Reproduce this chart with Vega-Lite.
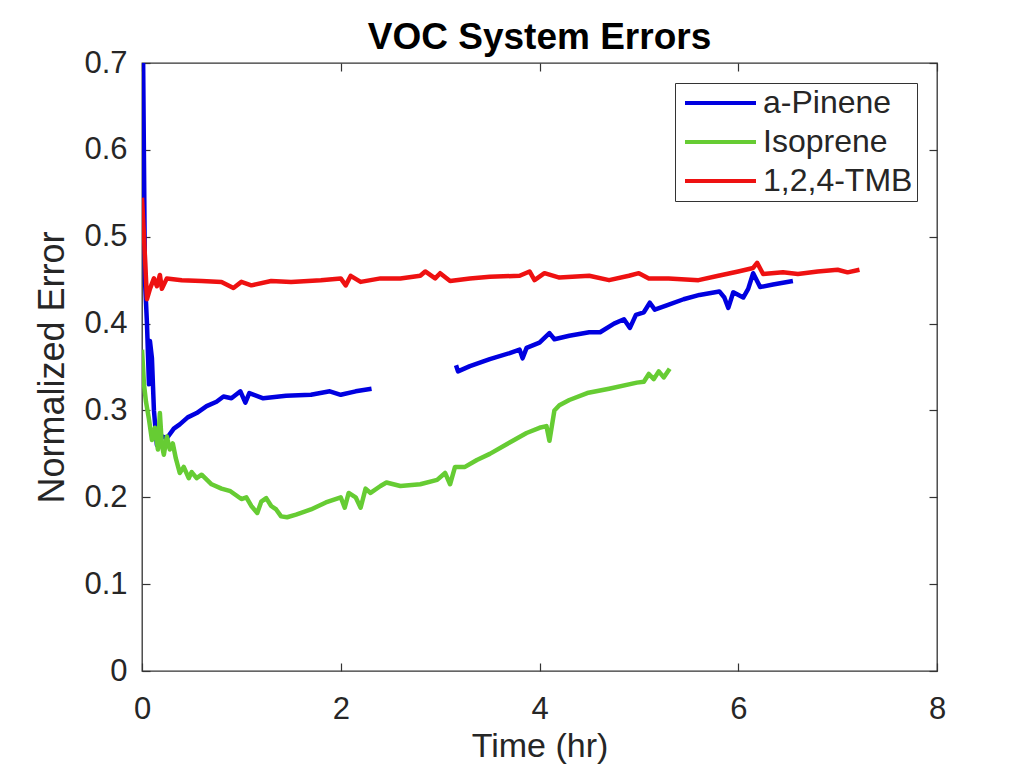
{
  "$schema": "https://vega.github.io/schema/vega-lite/v6.json",
  "autosize": {"type": "none"},
  "width": 795,
  "height": 608,
  "padding": {"left": 142, "top": 63, "right": 86, "bottom": 100},
  "background": "white",
  "title": {"text": "VOC System Errors", "font": "Liberation Sans", "fontSize": 37, "fontWeight": "bold", "color": "#000000", "anchor": "middle", "offset": -11},
  "datasets": {
    "pts": [
      {"t": 0.01, "err": 0.72, "series": "a-Pinene", "seg": "a1"},
      {"t": 0.03, "err": 0.45, "series": "a-Pinene", "seg": "a1"},
      {"t": 0.05, "err": 0.40, "series": "a-Pinene", "seg": "a1"},
      {"t": 0.07, "err": 0.33, "series": "a-Pinene", "seg": "a1"},
      {"t": 0.08, "err": 0.38, "series": "a-Pinene", "seg": "a1"},
      {"t": 0.10, "err": 0.36, "series": "a-Pinene", "seg": "a1"},
      {"t": 0.12, "err": 0.30, "series": "a-Pinene", "seg": "a1"},
      {"t": 0.15, "err": 0.26, "series": "a-Pinene", "seg": "a1"},
      {"t": 0.20, "err": 0.27, "series": "a-Pinene", "seg": "a1"},
      {"t": 0.25, "err": 0.268, "series": "a-Pinene", "seg": "a1"},
      {"t": 0.32, "err": 0.279, "series": "a-Pinene", "seg": "a1"},
      {"t": 0.38, "err": 0.284, "series": "a-Pinene", "seg": "a1"},
      {"t": 0.46, "err": 0.292, "series": "a-Pinene", "seg": "a1"},
      {"t": 0.55, "err": 0.297, "series": "a-Pinene", "seg": "a1"},
      {"t": 0.65, "err": 0.305, "series": "a-Pinene", "seg": "a1"},
      {"t": 0.75, "err": 0.31, "series": "a-Pinene", "seg": "a1"},
      {"t": 0.82, "err": 0.316, "series": "a-Pinene", "seg": "a1"},
      {"t": 0.9, "err": 0.314, "series": "a-Pinene", "seg": "a1"},
      {"t": 0.99, "err": 0.322, "series": "a-Pinene", "seg": "a1"},
      {"t": 1.04, "err": 0.309, "series": "a-Pinene", "seg": "a1"},
      {"t": 1.08, "err": 0.32, "series": "a-Pinene", "seg": "a1"},
      {"t": 1.22, "err": 0.314, "series": "a-Pinene", "seg": "a1"},
      {"t": 1.45, "err": 0.317, "series": "a-Pinene", "seg": "a1"},
      {"t": 1.7, "err": 0.318, "series": "a-Pinene", "seg": "a1"},
      {"t": 1.89, "err": 0.322, "series": "a-Pinene", "seg": "a1"},
      {"t": 2.0, "err": 0.318, "series": "a-Pinene", "seg": "a1"},
      {"t": 2.15, "err": 0.322, "series": "a-Pinene", "seg": "a1"},
      {"t": 2.31, "err": 0.325, "series": "a-Pinene", "seg": "a1"},
      {"t": 3.16, "err": 0.352, "series": "a-Pinene", "seg": "a2"},
      {"t": 3.18, "err": 0.345, "series": "a-Pinene", "seg": "a2"},
      {"t": 3.3, "err": 0.351, "series": "a-Pinene", "seg": "a2"},
      {"t": 3.5, "err": 0.359, "series": "a-Pinene", "seg": "a2"},
      {"t": 3.7, "err": 0.366, "series": "a-Pinene", "seg": "a2"},
      {"t": 3.8, "err": 0.37, "series": "a-Pinene", "seg": "a2"},
      {"t": 3.83, "err": 0.36, "series": "a-Pinene", "seg": "a2"},
      {"t": 3.87, "err": 0.372, "series": "a-Pinene", "seg": "a2"},
      {"t": 4.0, "err": 0.378, "series": "a-Pinene", "seg": "a2"},
      {"t": 4.1, "err": 0.389, "series": "a-Pinene", "seg": "a2"},
      {"t": 4.15, "err": 0.382, "series": "a-Pinene", "seg": "a2"},
      {"t": 4.3, "err": 0.386, "series": "a-Pinene", "seg": "a2"},
      {"t": 4.5, "err": 0.39, "series": "a-Pinene", "seg": "a2"},
      {"t": 4.61, "err": 0.39, "series": "a-Pinene", "seg": "a2"},
      {"t": 4.75, "err": 0.4, "series": "a-Pinene", "seg": "a2"},
      {"t": 4.85, "err": 0.405, "series": "a-Pinene", "seg": "a2"},
      {"t": 4.91, "err": 0.395, "series": "a-Pinene", "seg": "a2"},
      {"t": 4.97, "err": 0.41, "series": "a-Pinene", "seg": "a2"},
      {"t": 5.05, "err": 0.413, "series": "a-Pinene", "seg": "a2"},
      {"t": 5.11, "err": 0.424, "series": "a-Pinene", "seg": "a2"},
      {"t": 5.16, "err": 0.416, "series": "a-Pinene", "seg": "a2"},
      {"t": 5.28, "err": 0.421, "series": "a-Pinene", "seg": "a2"},
      {"t": 5.45, "err": 0.428, "series": "a-Pinene", "seg": "a2"},
      {"t": 5.61, "err": 0.433, "series": "a-Pinene", "seg": "a2"},
      {"t": 5.81, "err": 0.437, "series": "a-Pinene", "seg": "a2"},
      {"t": 5.86, "err": 0.43, "series": "a-Pinene", "seg": "a2"},
      {"t": 5.9, "err": 0.418, "series": "a-Pinene", "seg": "a2"},
      {"t": 5.95, "err": 0.436, "series": "a-Pinene", "seg": "a2"},
      {"t": 6.05, "err": 0.43, "series": "a-Pinene", "seg": "a2"},
      {"t": 6.1, "err": 0.44, "series": "a-Pinene", "seg": "a2"},
      {"t": 6.15, "err": 0.458, "series": "a-Pinene", "seg": "a2"},
      {"t": 6.22, "err": 0.442, "series": "a-Pinene", "seg": "a2"},
      {"t": 6.35, "err": 0.445, "series": "a-Pinene", "seg": "a2"},
      {"t": 6.45, "err": 0.447, "series": "a-Pinene", "seg": "a2"},
      {"t": 6.55, "err": 0.449, "series": "a-Pinene", "seg": "a2"},

      {"t": 0.0, "err": 0.37, "series": "Isoprene", "seg": "i"},
      {"t": 0.02, "err": 0.33, "series": "Isoprene", "seg": "i"},
      {"t": 0.04, "err": 0.31, "series": "Isoprene", "seg": "i"},
      {"t": 0.07, "err": 0.29, "series": "Isoprene", "seg": "i"},
      {"t": 0.1, "err": 0.266, "series": "Isoprene", "seg": "i"},
      {"t": 0.13, "err": 0.28, "series": "Isoprene", "seg": "i"},
      {"t": 0.16, "err": 0.255, "series": "Isoprene", "seg": "i"},
      {"t": 0.18, "err": 0.297, "series": "Isoprene", "seg": "i"},
      {"t": 0.2, "err": 0.26, "series": "Isoprene", "seg": "i"},
      {"t": 0.22, "err": 0.249, "series": "Isoprene", "seg": "i"},
      {"t": 0.25, "err": 0.27, "series": "Isoprene", "seg": "i"},
      {"t": 0.28, "err": 0.255, "series": "Isoprene", "seg": "i"},
      {"t": 0.31, "err": 0.262, "series": "Isoprene", "seg": "i"},
      {"t": 0.34, "err": 0.245, "series": "Isoprene", "seg": "i"},
      {"t": 0.38, "err": 0.228, "series": "Isoprene", "seg": "i"},
      {"t": 0.42, "err": 0.235, "series": "Isoprene", "seg": "i"},
      {"t": 0.47, "err": 0.222, "series": "Isoprene", "seg": "i"},
      {"t": 0.5, "err": 0.229, "series": "Isoprene", "seg": "i"},
      {"t": 0.55, "err": 0.222, "series": "Isoprene", "seg": "i"},
      {"t": 0.6, "err": 0.226, "series": "Isoprene", "seg": "i"},
      {"t": 0.7, "err": 0.215, "series": "Isoprene", "seg": "i"},
      {"t": 0.8, "err": 0.21, "series": "Isoprene", "seg": "i"},
      {"t": 0.89, "err": 0.207, "series": "Isoprene", "seg": "i"},
      {"t": 1.0, "err": 0.198, "series": "Isoprene", "seg": "i"},
      {"t": 1.05, "err": 0.2, "series": "Isoprene", "seg": "i"},
      {"t": 1.1, "err": 0.19, "series": "Isoprene", "seg": "i"},
      {"t": 1.16, "err": 0.182, "series": "Isoprene", "seg": "i"},
      {"t": 1.2, "err": 0.195, "series": "Isoprene", "seg": "i"},
      {"t": 1.25, "err": 0.199, "series": "Isoprene", "seg": "i"},
      {"t": 1.3, "err": 0.19, "series": "Isoprene", "seg": "i"},
      {"t": 1.35, "err": 0.186, "series": "Isoprene", "seg": "i"},
      {"t": 1.4, "err": 0.178, "series": "Isoprene", "seg": "i"},
      {"t": 1.46, "err": 0.177, "series": "Isoprene", "seg": "i"},
      {"t": 1.55, "err": 0.18, "series": "Isoprene", "seg": "i"},
      {"t": 1.7, "err": 0.186, "series": "Isoprene", "seg": "i"},
      {"t": 1.85, "err": 0.194, "series": "Isoprene", "seg": "i"},
      {"t": 2.0, "err": 0.2, "series": "Isoprene", "seg": "i"},
      {"t": 2.04, "err": 0.188, "series": "Isoprene", "seg": "i"},
      {"t": 2.08, "err": 0.205, "series": "Isoprene", "seg": "i"},
      {"t": 2.15, "err": 0.2, "series": "Isoprene", "seg": "i"},
      {"t": 2.2, "err": 0.188, "series": "Isoprene", "seg": "i"},
      {"t": 2.25, "err": 0.21, "series": "Isoprene", "seg": "i"},
      {"t": 2.3, "err": 0.205, "series": "Isoprene", "seg": "i"},
      {"t": 2.4, "err": 0.213, "series": "Isoprene", "seg": "i"},
      {"t": 2.46, "err": 0.217, "series": "Isoprene", "seg": "i"},
      {"t": 2.6, "err": 0.213, "series": "Isoprene", "seg": "i"},
      {"t": 2.8, "err": 0.215, "series": "Isoprene", "seg": "i"},
      {"t": 2.97, "err": 0.22, "series": "Isoprene", "seg": "i"},
      {"t": 3.05, "err": 0.228, "series": "Isoprene", "seg": "i"},
      {"t": 3.1, "err": 0.215, "series": "Isoprene", "seg": "i"},
      {"t": 3.15, "err": 0.235, "series": "Isoprene", "seg": "i"},
      {"t": 3.25, "err": 0.235, "series": "Isoprene", "seg": "i"},
      {"t": 3.37, "err": 0.243, "series": "Isoprene", "seg": "i"},
      {"t": 3.5, "err": 0.25, "series": "Isoprene", "seg": "i"},
      {"t": 3.7, "err": 0.263, "series": "Isoprene", "seg": "i"},
      {"t": 3.87, "err": 0.274, "series": "Isoprene", "seg": "i"},
      {"t": 4.0, "err": 0.28, "series": "Isoprene", "seg": "i"},
      {"t": 4.07, "err": 0.282, "series": "Isoprene", "seg": "i"},
      {"t": 4.1, "err": 0.265, "series": "Isoprene", "seg": "i"},
      {"t": 4.15, "err": 0.3, "series": "Isoprene", "seg": "i"},
      {"t": 4.2, "err": 0.306, "series": "Isoprene", "seg": "i"},
      {"t": 4.3, "err": 0.312, "series": "Isoprene", "seg": "i"},
      {"t": 4.48, "err": 0.32, "series": "Isoprene", "seg": "i"},
      {"t": 4.7, "err": 0.325, "series": "Isoprene", "seg": "i"},
      {"t": 4.98, "err": 0.332, "series": "Isoprene", "seg": "i"},
      {"t": 5.05, "err": 0.333, "series": "Isoprene", "seg": "i"},
      {"t": 5.1, "err": 0.342, "series": "Isoprene", "seg": "i"},
      {"t": 5.15, "err": 0.336, "series": "Isoprene", "seg": "i"},
      {"t": 5.2, "err": 0.345, "series": "Isoprene", "seg": "i"},
      {"t": 5.25, "err": 0.338, "series": "Isoprene", "seg": "i"},
      {"t": 5.31, "err": 0.348, "series": "Isoprene", "seg": "i"},

      {"t": 0.0, "err": 0.545, "series": "1,2,4-TMB", "seg": "r"},
      {"t": 0.02, "err": 0.5, "series": "1,2,4-TMB", "seg": "r"},
      {"t": 0.05, "err": 0.428, "series": "1,2,4-TMB", "seg": "r"},
      {"t": 0.08, "err": 0.44, "series": "1,2,4-TMB", "seg": "r"},
      {"t": 0.12, "err": 0.452, "series": "1,2,4-TMB", "seg": "r"},
      {"t": 0.15, "err": 0.443, "series": "1,2,4-TMB", "seg": "r"},
      {"t": 0.18, "err": 0.456, "series": "1,2,4-TMB", "seg": "r"},
      {"t": 0.2, "err": 0.44, "series": "1,2,4-TMB", "seg": "r"},
      {"t": 0.25, "err": 0.452, "series": "1,2,4-TMB", "seg": "r"},
      {"t": 0.4, "err": 0.45, "series": "1,2,4-TMB", "seg": "r"},
      {"t": 0.6, "err": 0.449, "series": "1,2,4-TMB", "seg": "r"},
      {"t": 0.8, "err": 0.448, "series": "1,2,4-TMB", "seg": "r"},
      {"t": 0.92, "err": 0.441, "series": "1,2,4-TMB", "seg": "r"},
      {"t": 1.0, "err": 0.448, "series": "1,2,4-TMB", "seg": "r"},
      {"t": 1.1, "err": 0.444, "series": "1,2,4-TMB", "seg": "r"},
      {"t": 1.3, "err": 0.449, "series": "1,2,4-TMB", "seg": "r"},
      {"t": 1.5, "err": 0.448, "series": "1,2,4-TMB", "seg": "r"},
      {"t": 1.8, "err": 0.45, "series": "1,2,4-TMB", "seg": "r"},
      {"t": 2.0, "err": 0.452, "series": "1,2,4-TMB", "seg": "r"},
      {"t": 2.05, "err": 0.444, "series": "1,2,4-TMB", "seg": "r"},
      {"t": 2.1, "err": 0.455, "series": "1,2,4-TMB", "seg": "r"},
      {"t": 2.2, "err": 0.448, "series": "1,2,4-TMB", "seg": "r"},
      {"t": 2.4, "err": 0.452, "series": "1,2,4-TMB", "seg": "r"},
      {"t": 2.6, "err": 0.452, "series": "1,2,4-TMB", "seg": "r"},
      {"t": 2.8, "err": 0.455, "series": "1,2,4-TMB", "seg": "r"},
      {"t": 2.85, "err": 0.46, "series": "1,2,4-TMB", "seg": "r"},
      {"t": 2.95, "err": 0.452, "series": "1,2,4-TMB", "seg": "r"},
      {"t": 3.0, "err": 0.458, "series": "1,2,4-TMB", "seg": "r"},
      {"t": 3.1, "err": 0.449, "series": "1,2,4-TMB", "seg": "r"},
      {"t": 3.3, "err": 0.452, "series": "1,2,4-TMB", "seg": "r"},
      {"t": 3.5, "err": 0.454, "series": "1,2,4-TMB", "seg": "r"},
      {"t": 3.8, "err": 0.455, "series": "1,2,4-TMB", "seg": "r"},
      {"t": 3.9, "err": 0.46, "series": "1,2,4-TMB", "seg": "r"},
      {"t": 3.95, "err": 0.45, "series": "1,2,4-TMB", "seg": "r"},
      {"t": 4.05, "err": 0.458, "series": "1,2,4-TMB", "seg": "r"},
      {"t": 4.2, "err": 0.453, "series": "1,2,4-TMB", "seg": "r"},
      {"t": 4.5, "err": 0.455, "series": "1,2,4-TMB", "seg": "r"},
      {"t": 4.7, "err": 0.45, "series": "1,2,4-TMB", "seg": "r"},
      {"t": 4.9, "err": 0.455, "series": "1,2,4-TMB", "seg": "r"},
      {"t": 5.0, "err": 0.458, "series": "1,2,4-TMB", "seg": "r"},
      {"t": 5.1, "err": 0.452, "series": "1,2,4-TMB", "seg": "r"},
      {"t": 5.3, "err": 0.452, "series": "1,2,4-TMB", "seg": "r"},
      {"t": 5.6, "err": 0.45, "series": "1,2,4-TMB", "seg": "r"},
      {"t": 5.8, "err": 0.455, "series": "1,2,4-TMB", "seg": "r"},
      {"t": 6.0, "err": 0.46, "series": "1,2,4-TMB", "seg": "r"},
      {"t": 6.15, "err": 0.464, "series": "1,2,4-TMB", "seg": "r"},
      {"t": 6.19, "err": 0.47, "series": "1,2,4-TMB", "seg": "r"},
      {"t": 6.25, "err": 0.457, "series": "1,2,4-TMB", "seg": "r"},
      {"t": 6.45, "err": 0.459, "series": "1,2,4-TMB", "seg": "r"},
      {"t": 6.6, "err": 0.457, "series": "1,2,4-TMB", "seg": "r"},
      {"t": 6.8, "err": 0.46, "series": "1,2,4-TMB", "seg": "r"},
      {"t": 7.0, "err": 0.462, "series": "1,2,4-TMB", "seg": "r"},
      {"t": 7.1, "err": 0.459, "series": "1,2,4-TMB", "seg": "r"},
      {"t": 7.22, "err": 0.462, "series": "1,2,4-TMB", "seg": "r"}
    ]
  },
  "data": {"name": "pts"},
  "layer": [
    {
      "mark": {"type": "line", "strokeWidth": 4.5, "clip": true, "strokeJoin": "round"},
      "encoding": {
        "x": {"field": "t", "type": "quantitative", "scale": {"domain": [0, 8], "nice": false},
              "axis": {"values": [0, 2, 4, 6, 8], "title": "Time (hr)", "titlePadding": 5, "labelPadding": 31, "titleFontSize": 34}},
        "y": {"field": "err", "type": "quantitative", "scale": {"domain": [0, 0.7], "nice": false, "zero": false},
              "axis": {"values": [0, 0.1, 0.2, 0.3, 0.4, 0.5, 0.6, 0.7], "format": "~g", "title": "Normalized Error", "titlePadding": 12, "labelPadding": 23, "titleFontSize": 36}},
        "color": {"field": "series", "type": "nominal",
                  "scale": {"domain": ["a-Pinene", "Isoprene", "1,2,4-TMB"], "range": ["#0000E0", "#66CC33", "#EE1111"]},
                  "legend": {"title": null, "orient": "top-right", "offset": 20, "symbolType": "M-1,0H6.1", "symbolSize": 400, "labelOffset": 52}},
        "detail": {"field": "seg"}
      }
    },
    {
      "mark": {"type": "line", "opacity": 0},
      "encoding": {
        "x": {"field": "t", "type": "quantitative", "axis": {"orient": "top", "values": [0, 2, 4, 6, 8], "labels": false, "title": null}},
        "y": {"field": "err", "type": "quantitative", "axis": {"orient": "right", "values": [0, 0.1, 0.2, 0.3, 0.4, 0.5, 0.6, 0.7], "labels": false, "title": null}},
        "detail": {"field": "seg"}
      }
    }
  ],
  "resolve": {"axis": {"x": "independent", "y": "independent"}},
  "config": {
    "view": {"stroke": "#333333", "strokeWidth": 1.3},
    "font": "Liberation Sans",
    "axis": {
      "domain": false, "grid": false, "labelFlush": false,
      "tickColor": "#333333", "tickSize": -8, "tickWidth": 1.2,
      "labelFont": "Liberation Sans", "labelFontSize": 31, "labelColor": "#262626",
      "titleFont": "Liberation Sans", "titleFontWeight": "normal", "titleColor": "#262626"
    },
    "legend": {
      "strokeColor": "#333333", "fillColor": "white", "padding": 4,
      "symbolStrokeWidth": 4,
      "labelFont": "Liberation Sans", "labelFontSize": 32, "labelColor": "#262626", "rowPadding": 7
    }
  }
}
